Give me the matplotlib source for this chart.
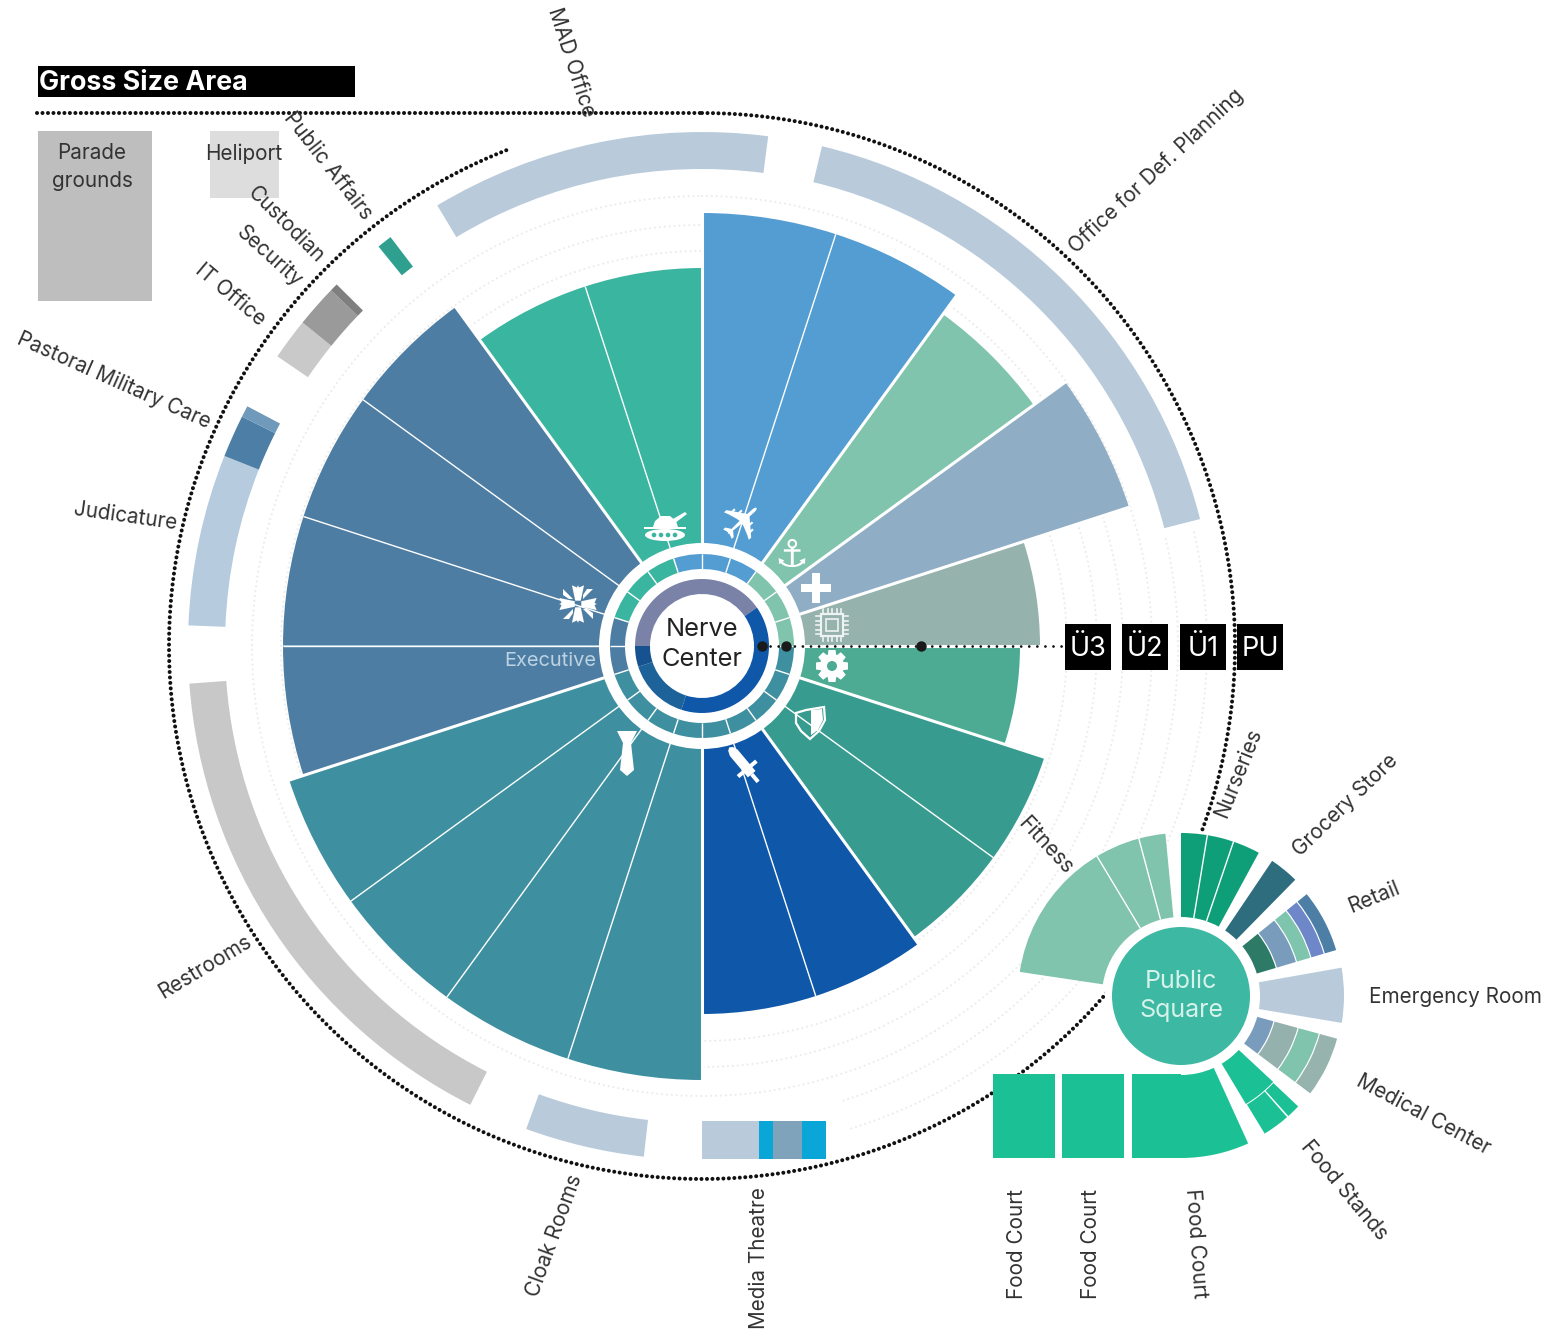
import numpy as np
import matplotlib
matplotlib.use("Agg")
import matplotlib.pyplot as plt
from matplotlib.patches import Wedge, Rectangle, Circle, Polygon, PathPatch, Ellipse
from matplotlib.textpath import TextPath
from matplotlib.font_manager import FontProperties
from matplotlib.transforms import Affine2D

plt.rcParams['font.family'] = ['Inter', 'DejaVu Sans']

# --- Main wheel: 18 degree slices, angles clockwise from north ---
wheel_start = [0, 36, 54, 72, 90, 108, 144, 180, 252, 324]
wheel_end = [36, 54, 72, 90, 108, 144, 180, 252, 324, 360]
wheel_radius = [433, 410, 449, 338, 318, 360, 368, 434, 419, 378]
wheel_colors = ['#539dd3', '#80c4ae', '#8fadc4', '#95b2ac', '#4dab93',
                '#379c8f', '#0f57a9', '#3e90a0', '#4e7da3', '#39b5a0']
wheel_inner_lines = [18, 126, 162, 198, 216, 234, 270, 288, 306, 342]

# small ring around the centre
ring_start = [342, 36, 90, 252, 288]
ring_end = [396, 90, 252, 288, 342]
ring_colors = ['#539dd3', '#80c4ae', '#3e90a0', '#4e7da3', '#39b5a0']
ring_lines = [0, 18, 36, 54, 72, 90, 108, 126, 144, 162, 180, 198, 216, 234,
              252, 270, 288, 306, 324, 342]

# core ring
core_start = [270, 55, 198, 252]
core_end = [415, 198, 252, 270]
core_colors = ['#7b82a8', '#0f57a9', '#1d6298', '#15528f']

# --- Outer band: angle ranges of the rooms ---
band_start = [329, 13.5, 321, 304.3, 309, 313.8, 272.3, 291.7, 296.5, 206.8, 186.5]
band_end = [367.4, 75.7, 322.7, 309, 313.8, 314.7, 291.7, 296.5, 297.8, 265.8, 200]
band_colors = ['#b9cbdb', '#b9cbdb', '#2fa08f', '#c9c9c9', '#9a9a9a', '#7f7f7f',
               '#b6cbde', '#4d7fa6', '#6f9abc', '#c8c8c8', '#b9cbdb']

# Media Theatre strip
media_widths = [57, 14, 29, 24]
media_colors = ['#b9cbdb', '#0aa6d8', '#7fa3bb', '#0aa6d8']

# --- Public Square fan ---
fan_start = [278.5, 0, 34, 80, 133, 155.5]
fan_end = [354.5, 28.5, 44.5, 99.5, 149, 180]
fan_radius = [163, 163, 163, 163, 126, 162]
fan_colors = ['#80c4ae', '#0e9f78', '#2d6d7e', '#b9cbdb', '#1bc194', '#1bc194']
fan_lines = [329, 345, 9.3, 18.8]
stand_start = [133, 138.5]
stand_end = [138.5, 149]
retail_radii = [79, 100, 121, 136, 150, 163]
retail_colors = ['#2d7a66', '#7a9cbc', '#7fc4ad', '#6d87c9', '#4d7fa6']
medical_radii = [79, 97, 122, 144, 163]
medical_colors = ['#7a9cbc', '#94b1ad', '#80c4ae', '#97b3ae']
court_widths = [61.5, 62, 49.5]

# --- Labels ---
labels = ['MAD Office', 'Office for Def. Planning', 'Public Affairs', 'Custodian',
          'Security', 'IT Office', 'Pastoral Military Care', 'Judicature',
          'Restrooms', 'Cloak Rooms', 'Media Theatre', 'Food Court', 'Food Court',
          'Food Court', 'Food Stands', 'Medical Center', 'Emergency Room', 'Retail',
          'Grocery Store', 'Nurseries', 'Fitness']
label_x = [571, 1156, 328, 286, 270, 230, 114, 125, 205, 554, 759, 1017, 1091, 1196,
           1344, 1423, 1455, 1374, 1345, 1238, 1045]
label_y = [62, 171, 166, 225, 256, 295, 380, 516, 967, 1236, 1258, 1244, 1244, 1243,
           1190, 1115, 997, 897, 805, 773, 846]
label_rot = [-72, 43, -52, -45, -42, -40, -24, -8, 31, 70, 90, 90, 90, -86,
             -50, -28, 0, 22, 44, 68, -47]
level_names = ['Ü3', 'Ü2', 'Ü1', 'PU']
level_x = [1065, 1122, 1180, 1237]

CX, CY = 702, 646
PX, PY = 1181, 996
TXT = '#333333'
FS = 14.9

fig = plt.figure(figsize=(15.53, 13.31), dpi=100)
ax = fig.add_axes([0, 0, 1, 1])
ax.set_xlim(0, 1553)
ax.set_ylim(1331, 0)
ax.axis('off')


def wedge(cx, cy, r0, r1, b0, b1, color, z=3):
    ax.add_patch(Wedge((cx, cy), r1, b0 - 90, b1 - 90, width=r1 - r0, fc=color, ec='none', zorder=z))


def spoke(cx, cy, r0, r1, b, lw=1.0, z=4):
    t = np.radians(b - 90)
    ax.plot([cx + r0 * np.cos(t), cx + r1 * np.cos(t)], [cy + r0 * np.sin(t), cy + r1 * np.sin(t)],
            color='white', lw=lw, zorder=z, solid_capstyle='butt')


def arc(r, b0, b1, **kw):
    t = np.radians(np.linspace(b0, b1, 400) - 90)
    ax.plot(CX + r * np.cos(t), CY + r * np.sin(t), **kw)


def glyph(ch, x, y, size, rot=0):
    tp = TextPath((0, 0), ch, size=size, prop=FontProperties(family='DejaVu Sans'))
    bb = tp.get_extents()
    tr = Affine2D().translate(-(bb.x0 + bb.x1) / 2, -(bb.y0 + bb.y1) / 2).rotate_deg(rot).scale(1, -1).translate(x, y)
    ax.add_patch(PathPatch(tp, fc='white', ec='none', transform=tr + ax.transData, zorder=6))


def poly(x, y, pts, s=1.0, rot=0, **kw):
    tr = Affine2D().scale(s).rotate_deg(rot).translate(x, y)
    kw.setdefault('fc', 'white')
    kw.setdefault('ec', 'none')
    ax.add_patch(Polygon(tr.transform(np.array(pts, float)), closed=True, zorder=6, **kw))


# faint dotted level rings
faint = dict(color='#ececec', lw=1.6, linestyle=(0, (0.01, 2.2)), dash_capstyle='round', zorder=1)
for r in [365, 395, 421, 450]:
    arc(r, 0, 360, **faint)
for r in [476, 505]:
    arc(r, 77, 163, **faint)

# black dotted outline
outline = dict(color='#111111', lw=2.9, linestyle=(0, (0.01, 1.35)), dash_capstyle='round', zorder=2)
arc(533, 0, 110.3, **outline)
arc(533, 130, 338.8, **outline)
ax.plot([37, CX], [113, 113], **outline)

# wheel
for b0, b1, r, c in zip(wheel_start, wheel_end, wheel_radius, wheel_colors):
    wedge(CX, CY, 0, r, b0, b1, c)
for i, b in enumerate(wheel_start):
    spoke(CX, CY, 0, max(wheel_radius[i], wheel_radius[i - 1]) + 1, b, lw=2.2)
for b in wheel_inner_lines:
    i = [j for j in range(len(wheel_start)) if wheel_start[j] < b < wheel_end[j]][0]
    spoke(CX, CY, 0, wheel_radius[i], b, lw=1.0)
# horizontal line stays thin on the left side
ax.add_patch(Rectangle((283, 645), 320, 1, fc='#a9c6d9', ec='none', zorder=5))

ax.add_patch(Circle((CX, CY), 103, fc='white', ec='none', zorder=5))
for b0, b1, c in zip(ring_start, ring_end, ring_colors):
    wedge(CX, CY, 77, 92, b0, b1, c, z=6)
for b in ring_lines:
    spoke(CX, CY, 77, 92, b, lw=1.0, z=7)
for b0, b1, c in zip(core_start, core_end, core_colors):
    wedge(CX, CY, 52, 67, b0, b1, c, z=6)

# outer band
for b0, b1, c in zip(band_start, band_end, band_colors):
    wedge(CX, CY, 477, 514, b0, b1, c)

left = CX
for w, c in zip(media_widths, media_colors):
    ax.add_patch(Rectangle((left, 1121), w, 38, fc=c, ec='none', zorder=3))
    left += w

# Public Square fan
ax.add_patch(Circle((PX, PY), 76, fc='white', ec='none', zorder=2.5))
for b0, b1, r, c in zip(fan_start, fan_end, fan_radius, fan_colors):
    wedge(PX, PY, 79, r, b0, b1, c)
for b in fan_lines:
    spoke(PX, PY, 79, 165, b)
for b0, b1 in zip(stand_start, stand_end):
    wedge(PX, PY, 127, 161, b0 + 0.3, b1 - 0.3, fan_colors[4])
for i, c in enumerate(retail_colors):
    wedge(PX, PY, retail_radii[i], retail_radii[i + 1] - 1.2, 51, 73.5, c)
for i, c in enumerate(medical_colors):
    wedge(PX, PY, medical_radii[i], medical_radii[i + 1] - 1.2, 105.3, 127, c)
left = 993
gap = 7.5
for w in court_widths:
    ax.add_patch(Rectangle((left, 1074), w, 84.3, fc=fan_colors[5], ec='none', zorder=3))
    left += w + gap
ax.add_patch(Circle((PX, PY), 69, fc='#3db8a3', ec='none', zorder=5))

# legend boxes top left
ax.add_patch(Rectangle((38, 66), 317, 31, fc='black', ec='none', zorder=3))
ax.add_patch(Rectangle((38, 131), 114, 170, fc='#bebebe', ec='none', zorder=3))
ax.add_patch(Rectangle((210, 131), 69, 67, fc='#dddddd', ec='none', zorder=3))
ax.text(39, 83, 'Gross Size Area', color='white', fontsize=19.3, fontweight='bold', va='center', ha='left', zorder=6)
ax.text(92, 167, 'Parade\ngrounds', color=TXT, fontsize=FS, va='center', ha='center', linespacing=1.5, zorder=6)
ax.text(244, 154, 'Heliport', color=TXT, fontsize=FS, va='center', ha='center', zorder=6)

# level tags and the pointer line
ax.plot([762, 1065], [646, 646], color='#111111', lw=2, linestyle=(0, (0.01, 2.9)), dash_capstyle='round', zorder=8)
ax.plot([762, 786, 921], [646, 646, 646], 'o', color='#1a1a1a', ms=7.5, mec='none', zorder=9)
for name, x in zip(level_names, level_x):
    ax.add_patch(Rectangle((x, 624), 46, 46, fc='black', ec='none', zorder=9))
    ax.text(x + 23, 649, name, color='white', fontsize=19.5, ha='center', va='center', zorder=10)

# centre texts
ax.text(CX, 630, 'Nerve', color='#222222', fontsize=18.3, ha='center', va='center', zorder=8)
ax.text(CX, 659, 'Center', color='#222222', fontsize=18.3, ha='center', va='center', zorder=8)
ax.text(PX, 981, 'Public', color='#d6f2ea', fontsize=18, ha='center', va='center', zorder=8)
ax.text(PX, 1011, 'Square', color='#d6f2ea', fontsize=18, ha='center', va='center', zorder=8)
ax.text(550, 661, 'Executive', color='#bcd3e3', fontsize=14.4, ha='center', va='center', zorder=8)

for s, x, y, r in zip(labels, label_x, label_y, label_rot):
    ax.text(x, y, s, color=TXT, fontsize=FS, rotation=r, rotation_mode='anchor',
            ha='center', va='center', zorder=8)

# --- Icons ---
glyph('\u2708', 742, 521, 54, rot=42)
glyph('\u2693', 792, 553, 38)
glyph('\u271a', 816, 588, 40)

# gear
ax.add_patch(Circle((832, 666), 12, fc='white', ec='none', zorder=6))
for a in range(0, 360, 45):
    poly(832, 666, [(-3.5, -16), (3.5, -16), (4.5, -9), (-4.5, -9)], rot=a)
ax.add_patch(Circle((832, 666), 5, fc='#4dab93', ec='none', zorder=7))

# iron cross
for a in [0, 90, 180, 270]:
    poly(578, 604, [(-2.5, -3), (-5.5, -17), (-1, -15), (0, -17), (1, -15), (5.5, -17), (2.5, -3)], rot=a, s=1.1)
    poly(578, 604, [(-5, -5), (-15, -15), (-15, -9), (-9, -5)], rot=a)

# tank
ax.add_patch(Ellipse((665, 535), 40, 12, fc='white', ec='none', zorder=6))
poly(665, 520, [(-21, 7), (21, 7), (21, 9), (-21, 9)])
poly(665, 520, [(-12, 7), (-10, 1), (-4, -4), (5, -4), (11, 1), (13, 7)])
poly(665, 520, [(8, -1), (20, -8), (22, -6), (10, 3)])
for dx in [-11, -4, 3, 10]:
    ax.add_patch(Circle((665 + dx, 535), 2.3, fc='#39b5a0', ec='none', zorder=7))

# chip
ax.add_patch(Rectangle((821, 614), 22, 22, fc='none', ec='#eef3f1', lw=1.6, zorder=6))
ax.add_patch(Rectangle((826, 619), 12, 12, fc='none', ec='#eef3f1', lw=1.2, zorder=6))
for d in [-9, -4.5, 0, 4.5, 9]:
    ax.plot([832 + d, 832 + d], [609, 614], color='#eef3f1', lw=1.2, zorder=6)
    ax.plot([832 + d, 832 + d], [636, 641], color='#eef3f1', lw=1.2, zorder=6)
    ax.plot([816, 821], [625 + d, 625 + d], color='#eef3f1', lw=1.2, zorder=6)
    ax.plot([843, 848], [625 + d, 625 + d], color='#eef3f1', lw=1.2, zorder=6)

# shield
poly(810, 722, [(-14, -9), (-4, -12), (14, -15), (15, -2), (9, 9), (0, 17), (-9, 9), (-14, 1)], fc='none', ec='white', lw=1.6)
poly(810, 722, [(1, -12), (12, -13), (13, -2), (8, 8), (1, 13)])

# rocket
poly(744, 765, [(-5, -16), (-3, -21), (0, -23), (3, -21), (5, -16), (5, 12), (-5, 12)], rot=-40)
poly(744, 765, [(-12, 3), (12, 3), (12, 7), (-12, 7)], rot=-40)
poly(744, 765, [(-2, 12), (2, 12), (2, 22), (-2, 22)], rot=-40)

# tie
poly(627, 752, [(-10, -21), (10, -21), (4, -9), (-4, -9)])
poly(627, 752, [(-4, -9), (4, -9), (7, 18), (0, 24), (-7, 18)])

fig.savefig('out.png', dpi=100, facecolor='white')
plt.close(fig)
